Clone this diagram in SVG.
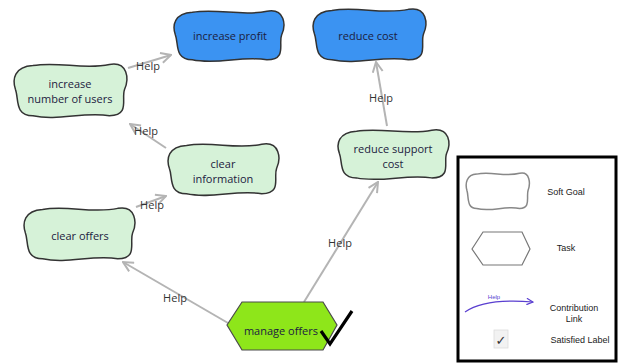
<svg xmlns="http://www.w3.org/2000/svg" width="621" height="364" viewBox="0 0 621 364">
<style>
.blob{stroke:#333;stroke-width:1.5;vector-effect:non-scaling-stroke}
.blue{fill:#3b93f2}
.green{fill:#d6f2d8}
.lbl{font-family:"Open Sans","DejaVu Sans",sans-serif;font-size:11px;fill:#1c2140;text-anchor:middle}
.help{font-family:"Open Sans","DejaVu Sans",sans-serif;font-size:11px;fill:#333;text-anchor:middle}
.link{stroke:#b4b4b4;stroke-width:2;fill:none;marker-end:url(#arr)}
.leg{font-family:"Liberation Sans",Arial,sans-serif;font-size:9px;fill:#222;text-anchor:middle}
</style>
<defs>
<marker id="arr" viewBox="0 0 12 12" refX="11" refY="6" markerWidth="12" markerHeight="12" markerUnits="userSpaceOnUse" orient="auto">
<path d="M1,1 L11,6 L1,11" fill="none" stroke="#b4b4b4" stroke-width="2"/>
</marker>
<marker id="parr" viewBox="0 0 10 10" refX="9" refY="5" markerWidth="8" markerHeight="8" markerUnits="userSpaceOnUse" orient="auto">
<path d="M1,1 L9,5 L1,9" fill="none" stroke="#5a3fd0" stroke-width="1.5"/>
</marker>
</defs>

<g id="connectors">
<line class="link" x1="128" y1="68" x2="171" y2="55"/>
<line class="link" x1="166" y1="148" x2="130" y2="124"/>
<line class="link" x1="136" y1="207" x2="166" y2="196"/>
<line class="link" x1="228" y1="323" x2="123" y2="262"/>
<line class="link" x1="304" y1="302" x2="378" y2="182"/>
<line class="link" x1="387" y1="126" x2="376" y2="62"/>
<text class="help" x="148" y="70">Help</text>
<text class="help" x="146" y="135">Help</text>
<text class="help" x="152" y="209">Help</text>
<text class="help" x="175" y="302">Help</text>
<text class="help" x="340" y="247">Help</text>
<text class="help" x="381" y="102">Help</text>
</g>

<g id="increase-profit">
<path class="blob blue" d="M18,4 C40,0 62,8 84,3 C100,0 101,16 97,25 C94,33 102,48 84,48 C62,44 40,53 18,48 C2,48 6,33 3,25 C0,16 2,5 18,4 Z" transform="translate(172,8) scale(1.13,1.08)"/>
<text class="lbl" x="230" y="40">increase profit</text>
</g>

<g id="reduce-cost">
<path class="blob blue" d="M18,4 C40,0 62,8 84,3 C100,0 101,16 97,25 C94,33 102,48 84,48 C62,44 40,53 18,48 C2,48 6,33 3,25 C0,16 2,5 18,4 Z" transform="translate(311,6) scale(1.16,1.12)"/>
<text class="lbl" x="368" y="40">reduce cost</text>
</g>

<g id="increase-number-of-users">
<path class="blob green" d="M18,4 C40,0 62,8 84,3 C100,0 101,16 97,25 C94,33 102,48 84,48 C62,44 40,53 18,48 C2,48 6,33 3,25 C0,16 2,5 18,4 Z" transform="translate(12,61) scale(1.16,1.14)"/>
<text class="lbl" x="70" y="88">increase</text>
<text class="lbl" x="70" y="103">number of users</text>
</g>

<g id="clear-information">
<path class="blob green" d="M18,4 C40,0 62,8 84,3 C100,0 101,16 97,25 C94,33 102,48 84,48 C62,44 40,53 18,48 C2,48 6,33 3,25 C0,16 2,5 18,4 Z" transform="translate(166,141) scale(1.14,1.1)"/>
<text class="lbl" x="223" y="168">clear</text>
<text class="lbl" x="223" y="183">information</text>
</g>

<g id="clear-offers">
<path class="blob green" d="M18,4 C40,0 62,8 84,3 C100,0 101,16 97,25 C94,33 102,48 84,48 C62,44 40,53 18,48 C2,48 6,33 3,25 C0,16 2,5 18,4 Z" transform="translate(22,205) scale(1.14,1.12)"/>
<text class="lbl" x="80" y="240">clear offers</text>
</g>

<g id="reduce-support-cost">
<path class="blob green" d="M18,4 C40,0 62,8 84,3 C100,0 101,16 97,25 C94,33 102,48 84,48 C62,44 40,53 18,48 C2,48 6,33 3,25 C0,16 2,5 18,4 Z" transform="translate(336,127) scale(1.14,1.06)"/>
<text class="lbl" x="393" y="153">reduce support</text>
<text class="lbl" x="393" y="168">cost</text>
</g>

<g id="manage-offers">
<polygon points="227,325 242,302 323,302 337,325 323,350 242,350" fill="#8ee61a" stroke="#4a4a4a" stroke-width="1.2"/>
<text class="lbl" x="281" y="335">manage offers</text>
<path d="M321,331 L330,344 L352,311" fill="none" stroke="#000" stroke-width="3.2"/>
</g>

<g id="legend">
<rect x="458" y="157" width="158" height="204" fill="#fff" stroke="#000" stroke-width="3"/>
<path d="M18,4 C40,0 62,8 84,3 C100,0 101,16 97,25 C94,33 102,48 84,48 C62,44 40,53 18,48 C2,48 6,33 3,25 C0,16 2,5 18,4 Z" transform="translate(465,171) scale(0.65,0.78)" fill="#fff" stroke="#888" stroke-width="1.5" vector-effect="non-scaling-stroke"/>
<text class="leg" x="566" y="195">Soft Goal</text>
<polygon points="472,249 483,232 522,232 530,249 522,265 483,265" fill="#fff" stroke="#777" stroke-width="1.2"/>
<text class="leg" x="566" y="251">Task</text>
<path d="M465,312 Q485,298 533,302" fill="none" stroke="#5a3fd0" stroke-width="1.2" marker-end="url(#parr)"/>
<text x="494" y="299" font-family="Liberation Sans,Arial,sans-serif" font-size="6" fill="#5a3fd0" text-anchor="middle">Help</text>
<text class="leg" x="574" y="311">Contribution</text>
<text class="leg" x="574" y="322">Link</text>
<rect x="494" y="330" width="14" height="18" fill="#f2f2f2" stroke="#ddd" stroke-width="0.8"/>
<text x="501" y="345" font-family="DejaVu Sans,sans-serif" font-size="13" fill="#333" text-anchor="middle">✓</text>
<text class="leg" x="580" y="343">Satisfied Label</text>
</g>
</svg>
